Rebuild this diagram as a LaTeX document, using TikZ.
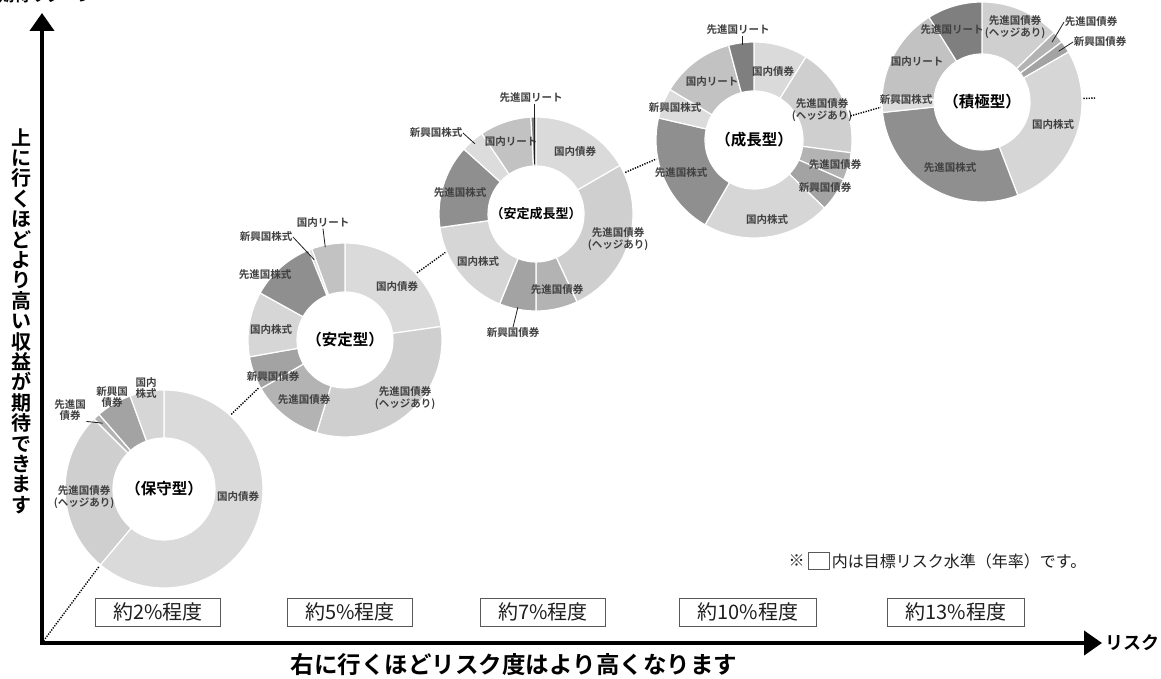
\documentclass[tikz,border=0pt]{standalone}
\usepackage{fontspec}
\setmainfont{Noto Sans CJK JP}[BoldFont={Noto Sans CJK JP Bold}]
\usetikzlibrary{calc,arrows.meta,positioning}
\definecolor{cDB}{HTML}{DADADA}
\definecolor{cHD}{HTML}{CFCFCF}
\definecolor{cFB}{HTML}{B3B3B3}
\definecolor{cEB}{HTML}{A3A3A3}
\definecolor{cDS}{HTML}{D6D6D6}
\definecolor{cFS}{HTML}{8F8F8F}
\definecolor{cES}{HTML}{DCDCDC}
\definecolor{cDR}{HTML}{C2C2C2}
\definecolor{cFR}{HTML}{7F7F7F}
\definecolor{txt}{HTML}{1E1E1E}
\newcommand{\dslice}[6]{%
  \filldraw[fill=#4, draw=white, line width=1.2pt]
    ($(#1)+(#2:#5pt)$) arc[start angle=#2, end angle=#3, radius=#5pt]
    -- ($(#1)+(#3:#6pt)$) arc[start angle=#3, end angle=#2, radius=#6pt] -- cycle;}
\begin{document}
\begin{tikzpicture}[x=1pt,y=1pt,
  lab/.style={font=\bfseries\fontsize{10.5}{11.5}\selectfont, align=center, inner sep=0.5pt, text=txt!85},
  leader/.style={draw=txt, line width=0.8pt},
  donut/.style={circle, inner sep=0pt, outer sep=1.5pt, font=\bfseries\fontsize{15.5}{16}\selectfont, text=black},
  dotc/.style={draw=black, line width=1.4pt, dash pattern=on 1.3pt off 1.3pt},
  axis/.style={draw=black, line width=4pt, line join=miter},
  rbox/.style={draw=black!65, line width=0.9pt, minimum width=125pt, minimum height=28pt, inner sep=2pt, font=\fontsize{20}{20}\selectfont, text=txt},
  note/.style={font=\fontsize{16}{16}\selectfont, inner sep=0.5pt, text=txt}]
\useasboundingbox (0,0) rectangle (1161,678);
\fill[white] (0,0) rectangle (1161,678);

% top clipped axis caption
\node[font=\bfseries\fontsize{16}{16}\selectfont, anchor=base, inner sep=0pt] (ycap) at (46,676) {期待リターン};

% axes
\coordinate (O) at (42,35);
\coordinate (ytop) at (42,665);
\coordinate (xend) at (1102,35);
\draw[axis, {Triangle[width=24pt,length=18pt]}-{Triangle[width=24pt,length=18pt]}] (ytop) -- (O) -- (xend);
\node[font=\bfseries\fontsize{18}{18}\selectfont, anchor=west, inner sep=0pt] (xcap) at (1105,35) {リスク};
\node[font=\bfseries\fontsize{20}{20.4}\selectfont, align=center, inner sep=0pt] (ylab) at (21,357)
  {上\\に\\行\\く\\ほ\\ど\\よ\\り\\高\\い\\収\\益\\が\\期\\待\\で\\き\\ま\\す};
\node[font=\bfseries\fontsize{23.5}{23.5}\selectfont, inner sep=0pt] (xlab) at (514,13) {右に行くほどリスク度はより高くなります};

% donut 1
\coordinate (c1) at (164,189);
\foreach \a/\b/\c in {90/-130/cDB, -130/-225/cHD, -225/-229/cFB, -229/-250/cEB, -250/-270/cDS}
  {\dslice{c1}{\a}{\b}{\c}{99}{51}}
\node[donut, minimum size=198pt] (d1) at (c1) {（保守型）};
\node[lab] (l1a) at (238,181) {国内債券};
\node[lab] (l1b) at (84,181) {先進国債券\\(ヘッジあり)};
\node[lab] (l1c) at (70,268) {先進国\\債券};
\node[lab] (l1d) at (112,281) {新興国\\債券};
\node[lab] (l1e) at (146,290) {国内\\株式};
\coordinate (p1c) at ($(c1)+(133:90pt)$);
\draw[leader] (l1c.south east) -- (p1c);

% donut 2
\coordinate (c2) at (345,338);
\foreach \a/\b/\c in {90/8/cDB, 8/-107/cHD, -107/-150/cFB, -150/-170/cEB, -170/-209/cDS, -209/-248/cFS, -248/-250/cES, -250/-270/cDR}
  {\dslice{c2}{\a}{\b}{\c}{97}{48}}
\node[donut, minimum size=194pt] (d2) at (c2) {（安定型）};
\node[lab] (l2a) at (397,391) {国内債券};
\node[lab] (l2b) at (405,280) {先進国債券\\(ヘッジあり)};
\node[lab] (l2c) at (304,278) {先進国債券};
\node[lab] (l2d) at (273,301) {新興国債券};
\node[lab] (l2e) at (271,348) {国内株式};
\node[lab] (l2f) at (265,403) {先進国株式};
\node[lab] (l2g) at (266,441) {新興国株式};
\node[lab] (l2h) at (323,455) {国内リート};
\coordinate (p2g) at ($(c2)+(111:86pt)$);
\coordinate (p2h) at ($(c2)+(102:95pt)$);
\draw[leader] (l2g.east) -- (p2g);
\draw[leader] (l2h.south) -- (p2h);

% donut 3
\coordinate (c3) at (536,464);
\foreach \a/\b/\c in {90/30/cDB, 30/-65/cHD, -65/-90/cFB, -90/-112/cEB, -112/-172/cDS, -172/-222/cFS, -222/-236/cES, -236/-267/cDR, -267/-270/cFR}
  {\dslice{c3}{\a}{\b}{\c}{97}{48}}
\node[donut, minimum size=194pt, font=\bfseries\fontsize{13}{14}\selectfont] (d3) at (c3) {（安定成長型）};
\node[lab] (l3a) at (575,526) {国内債券};
\node[lab] (l3b) at (618,439) {先進国債券\\(ヘッジあり)};
\node[lab] (l3c) at (557,388) {先進国債券};
\node[lab] (l3d) at (513,345) {新興国債券};
\node[lab] (l3e) at (478,416) {国内株式};
\node[lab] (l3f) at (460,485) {先進国株式};
\node[lab] (l3g) at (436,545) {新興国株式};
\node[lab] (l3h) at (511,536) {国内リート};
\node[lab] (l3i) at (531,580) {先進国リート};
\coordinate (p3i) at ($(c3)+(91.5:50pt)$);
\coordinate (p3g) at ($(c3)+(131:93pt)$);
\coordinate (p3d) at ($(c3)+(-101:95pt)$);
\draw[leader] (l3i.south -| p3i) -- (p3i);
\draw[leader] (l3g.east) -- (p3g);
\draw[leader] (l3d.north) -- (p3d);

% donut 4
\coordinate (c4) at (754,538);
\foreach \a/\b/\c in {90/58/cDB, 58/-7.5/cHD, -7.5/-24/cFB, -24/-44/cEB, -44/-120/cDS, -120/-193/cFS, -193/-211/cES, -211/-255/cDR, -255/-270/cFR}
  {\dslice{c4}{\a}{\b}{\c}{98}{49}}
\node[donut, minimum size=196pt] (d4) at (c4) {（成長型）};
\node[lab] (l4a) at (773,606) {国内債券};
\node[lab] (l4b) at (822,568) {先進国債券\\(ヘッジあり)};
\node[lab] (l4c) at (835,513) {先進国債券};
\node[lab] (l4d) at (825,490) {新興国債券};
\node[lab] (l4e) at (767,458) {国内株式};
\node[lab] (l4f) at (681,505) {先進国株式};
\node[lab] (l4g) at (675,570) {新興国株式};
\node[lab] (l4h) at (712,596) {国内リート};
\node[lab] (l4i) at (738,648) {先進国リート};
\coordinate (p4i) at ($(c4)+(97:96pt)$);
\draw[leader] (l4i.south -| p4i) -- (p4i);

% donut 5
\coordinate (c5) at (982,576);
\foreach \a/\b/\c in {90/44/cHD, 44/37/cFB, 37/30/cEB, 30/-69/cDS, -69/-174/cFS, -174/-183/cES, -183/-238/cDR, -238/-270/cFR}
  {\dslice{c5}{\a}{\b}{\c}{100}{48}}
\node[donut, minimum size=200pt] (d5) at (c5) {（積極型）};
\node[lab] (l5a) at (1015,651) {先進国債券\\(ヘッジあり)};
\node[lab] (l5b) at (1091,656) {先進国債券};
\node[lab] (l5c) at (1100,636) {新興国債券};
\node[lab] (l5d) at (1053,553) {国内株式};
\node[lab] (l5e) at (950,510) {先進国株式};
\node[lab] (l5f) at (906,578) {新興国株式};
\node[lab] (l5g) at (917,616) {国内リート};
\node[lab] (l5h) at (952,648) {先進国リート};
\coordinate (p5b) at ($(c5)+(40.5:92pt)$);
\coordinate (p5c) at ($(c5)+(33.5:92pt)$);
\draw[leader] (l5b.west) -- (p5b);
\draw[leader] (l5c.west) -- (p5c);

% dotted connectors
\coordinate (dend) at (1096,580);
\draw[dotc] (O) -- (d1.230);
\draw[dotc] (d1.48) -- (d2.209);
\draw[dotc] (d2.43) -- (d3.203);
\draw[dotc] (d3.25) -- (d4.191);
\draw[dotc] (d4.14) -- (d5.183);
\draw[dotc] (d5.2) -- (dend);

% risk boxes
\node[rbox] (r1) at (158,66) {約2\%程度};
\node[rbox] (r2) at (350,66) {約5\%程度};
\node[rbox] (r3) at (543,66) {約7\%程度};
\node[rbox, minimum width=137pt] (r4) at (748,66) {約10\%程度};
\node[rbox, minimum width=137pt] (r5) at (956,66) {約13\%程度};

% note
\node[note, anchor=west] (nt1) at (788,117) {※};
\node[draw=black!65, line width=0.8pt, minimum width=21pt, minimum height=17pt, inner sep=0pt, right=3pt of nt1] (ntbox) {};
\node[note, right=1pt of ntbox] (nt2) {内は目標リスク水準（年率）です。};
\end{tikzpicture}
\end{document}
